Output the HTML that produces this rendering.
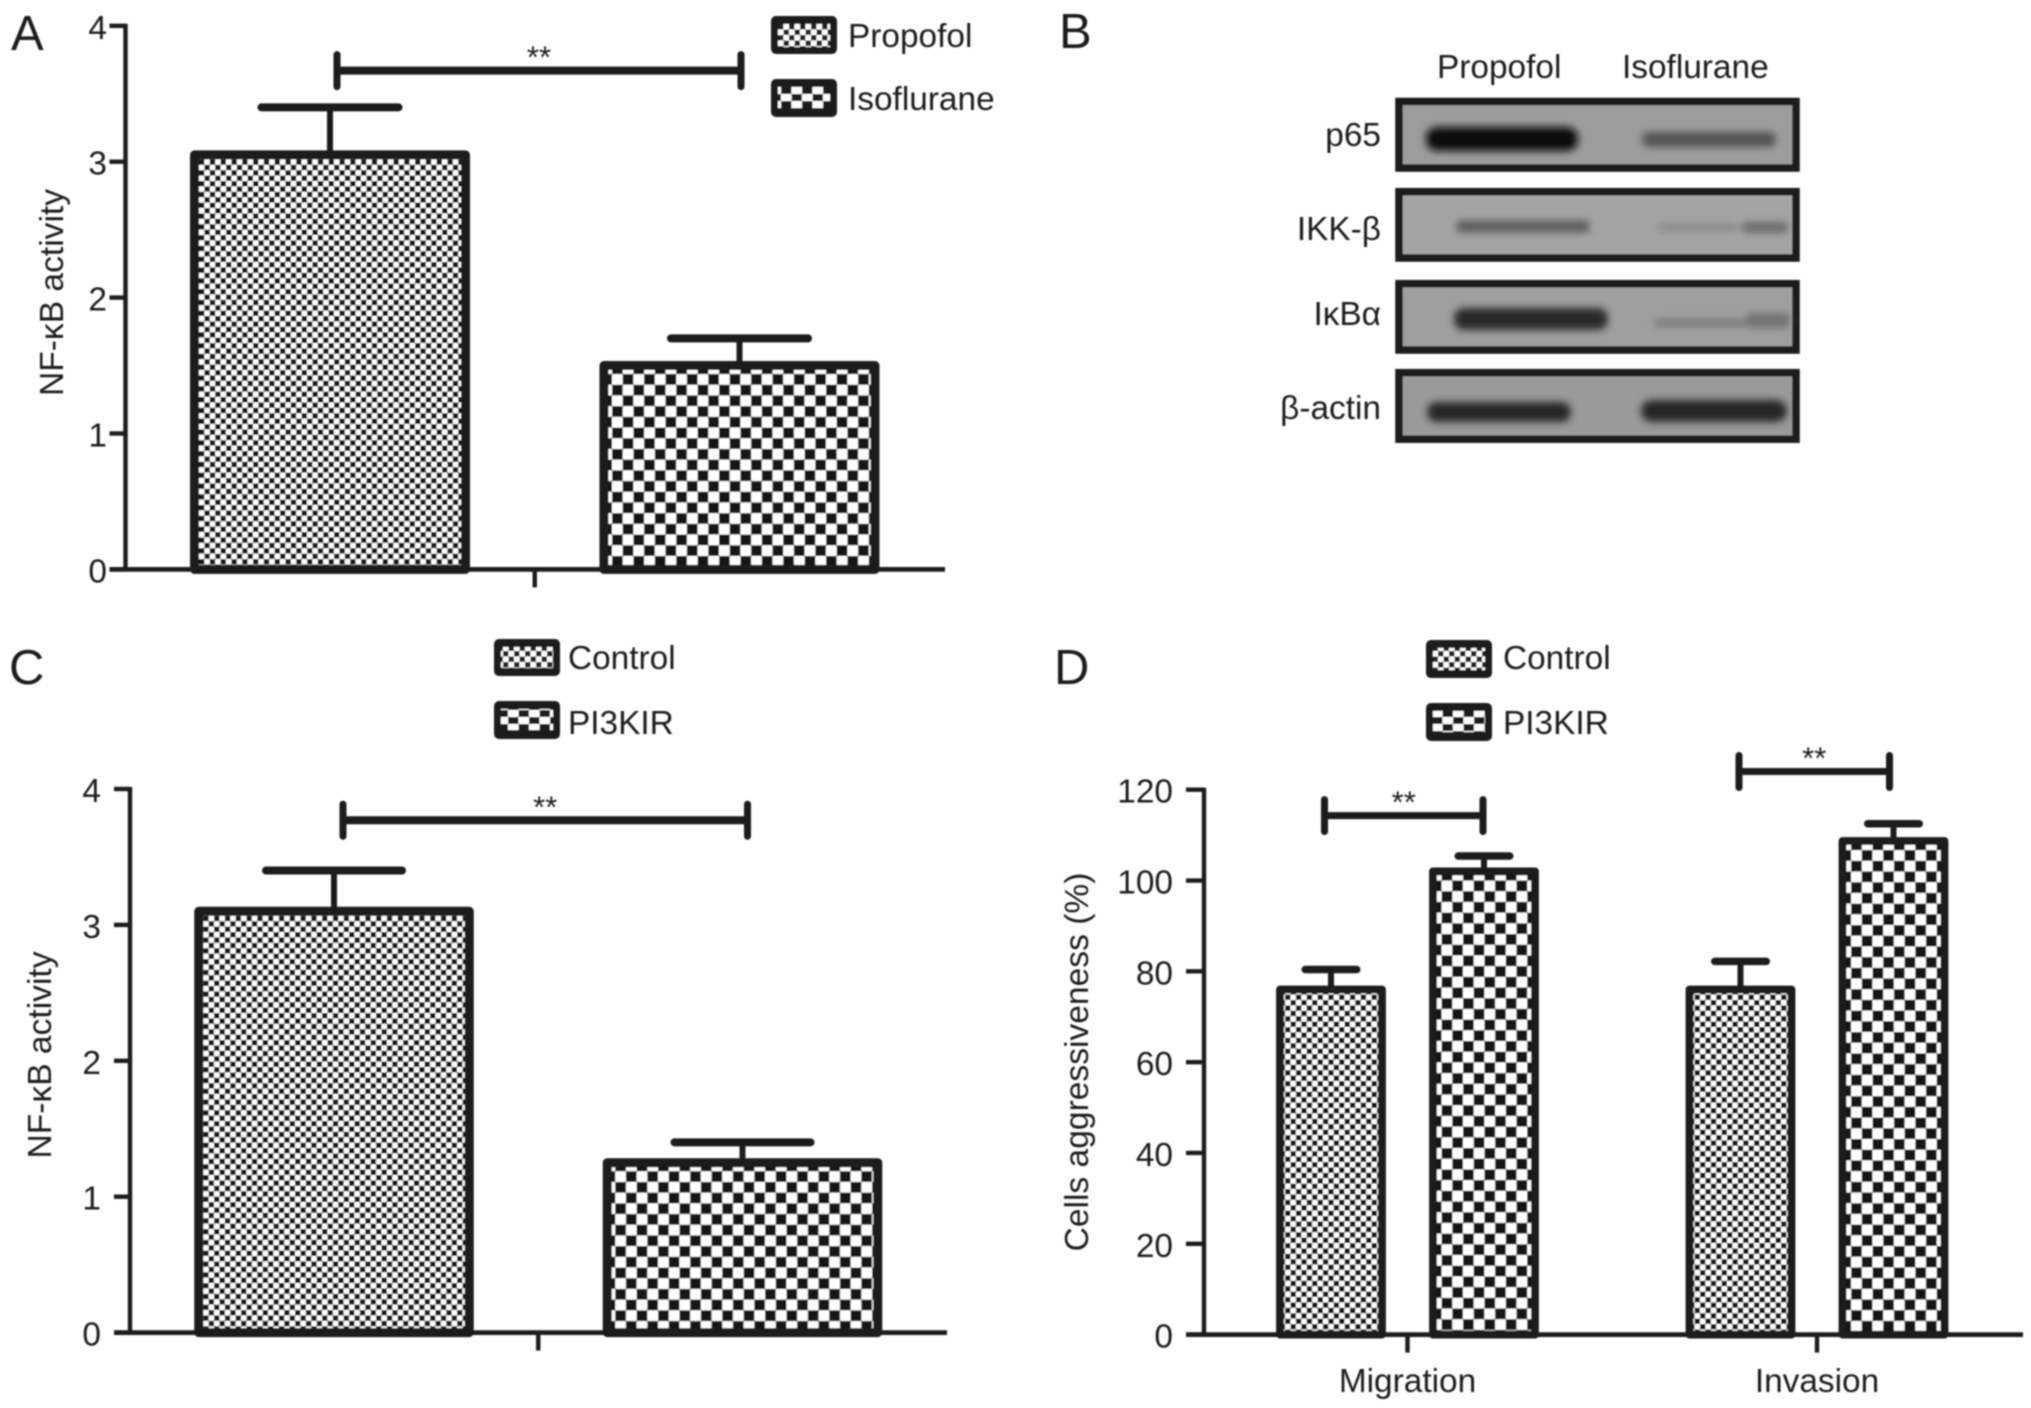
<!DOCTYPE html>
<html lang="en">
<head>
<meta charset="utf-8">
<title>NF-κB activity panels</title>
<style>
  html, body { margin: 0; padding: 0; background: #fff; }
  svg { display: block; }
  text { font-family: "Liberation Sans", "DejaVu Sans", sans-serif; fill: #1f1f1f; }
</style>
</head>
<body>
<svg id="figure" xmlns="http://www.w3.org/2000/svg" width="2031" height="1408" viewBox="0 0 2031 1408">
  <defs>
    <filter id="soft" filterUnits="userSpaceOnUse" x="0" y="0" width="2031" height="1408"><feGaussianBlur stdDeviation="0.75"/></filter>
    <filter id="band-blur" filterUnits="userSpaceOnUse" x="1380" y="90" width="440" height="370"><feGaussianBlur stdDeviation="3.8"/></filter>
    <pattern id="legend-fine" patternUnits="userSpaceOnUse" width="11" height="11" x="778" y="24">
      <rect width="11" height="11" fill="#fff"/><rect width="5.5" height="5.5" fill="#222"/><rect x="5.5" y="5.5" width="5.5" height="5.5" fill="#222"/>
    </pattern>
    <pattern id="legend-coarse" patternUnits="userSpaceOnUse" width="21" height="14" x="781" y="87">
      <rect width="21" height="14" fill="#fff"/><rect width="10.5" height="7" fill="#1a1a1a"/><rect x="10.5" y="7" width="10.5" height="7" fill="#1a1a1a"/>
    </pattern>
  </defs>

  <g id="root" filter="url(#soft)">
    <text x="11" y="50" font-size="49">A</text>
    <text x="1059" y="48" font-size="49">B</text>
    <text x="9" y="684" font-size="49">C</text>
    <text x="1054" y="684" font-size="49">D</text>

    <!-- Panel A legend -->
    <g>
      <rect x="771" y="16" width="66" height="38" rx="5" fill="#1a1a1a"/>
      <rect x="778" y="24" width="52" height="23" fill="url(#legend-fine)"/>
      <text x="848" y="47" font-size="33.4">Propofol</text>
      <rect x="771" y="79" width="66" height="38" rx="5" fill="#1a1a1a"/>
      <rect x="778" y="87" width="52" height="21" fill="url(#legend-coarse)"/>
      <text x="848" y="110" font-size="33.4">Isoflurane</text>
    </g>

    <!-- Panel C legend -->
    <g>
      <rect x="494" y="639" width="66" height="37" rx="5" fill="#1a1a1a"/>
      <rect x="501" y="647" width="52" height="21" fill="url(#legend-fine)"/>
      <text x="568" y="669" font-size="33.4">Control</text>
      <rect x="494" y="701" width="66" height="38" rx="5" fill="#1a1a1a"/>
      <rect x="501" y="709" width="52" height="21" fill="url(#legend-coarse)"/>
      <text x="568" y="734" font-size="33.4">PI3KIR</text>
    </g>

    <!-- Panel D legend -->
    <g>
      <rect x="1426" y="640" width="66" height="38" rx="5" fill="#1a1a1a"/>
      <rect x="1433" y="648" width="52" height="22" fill="url(#legend-fine)"/>
      <text x="1503" y="669" font-size="33.4">Control</text>
      <rect x="1426" y="703" width="66" height="38" rx="5" fill="#1a1a1a"/>
      <rect x="1433" y="711" width="52" height="21" fill="url(#legend-coarse)"/>
      <text x="1503" y="734" font-size="33.4">PI3KIR</text>
    </g>

    <!-- Panel B western blot -->
    <g>
      <text x="1437" y="78" font-size="33.4">Propofol</text>
      <text x="1622" y="78" font-size="33.4">Isoflurane</text>

      <text x="1381" y="146" font-size="33.4" text-anchor="end">p65</text>
      <text x="1381" y="240" font-size="33.4" text-anchor="end">IKK-β</text>
      <text x="1381" y="325" font-size="33.4" text-anchor="end">IκBα</text>
      <text x="1381" y="419" font-size="33.4" text-anchor="end">β-actin</text>

      <rect x="1399" y="101.5" width="397" height="66.5" fill="#9c9c9c" stroke="#1c1c1c" stroke-width="7.5"/>
      <rect x="1399" y="191.7" width="397" height="66.3" fill="#a4a4a4" stroke="#1c1c1c" stroke-width="7.5"/>
      <rect x="1399" y="283.7" width="397" height="66.3" fill="#9f9f9f" stroke="#1c1c1c" stroke-width="7.5"/>
      <rect x="1399" y="372.7" width="397" height="66.5" fill="#9a9a9a" stroke="#1c1c1c" stroke-width="7.5"/>

      <g filter="url(#band-blur)">
        <rect x="1426" y="127" width="152" height="24" rx="11" fill="#0e0e0e"/>
        <rect x="1642" y="132" width="134" height="15" rx="7" fill="#555"/>
        <rect x="1456" y="220" width="134" height="13" rx="6" fill="#606060"/>
        <rect x="1658" y="224" width="80" height="7" rx="3" fill="#868686"/>
        <rect x="1742" y="222" width="46" height="11" rx="4" fill="#6c6c6c"/>
        <rect x="1454" y="308" width="154" height="22" rx="10" fill="#2c2c2c"/>
        <rect x="1654" y="319" width="92" height="8" rx="4" fill="#7c7c7c"/>
        <rect x="1746" y="313" width="44" height="15" rx="5" fill="#727272"/>
        <rect x="1427" y="402" width="144" height="20" rx="10" fill="#262626"/>
        <rect x="1641" y="400" width="146" height="22" rx="11" fill="#262626"/>
      </g>
    </g>

    <g id="charts"></g>
  </g>
</svg>

<script>
// ---- Panel A data ----
const panelAYTicks = [0, 1, 2, 3, 4];
const panelALabels = ['propofol', 'isoflurane'];
const panelAValues = [3.05, 1.5];
const panelAErrorTops = [3.4, 1.7];
const panelASigLevels = [3.67];

// ---- Panel C data ----
const panelCYTicks = [0, 1, 2, 3, 4];
const panelCLabels = ['control', 'pi3kir'];
const panelCValues = [3.1, 1.25];
const panelCErrorTops = [3.4, 1.4];
const panelCSigLevels = [3.77];

// ---- Panel D data ----
const panelDYTicks = [0, 20, 40, 60, 80, 100, 120];
const panelDCategories = ['Migration', 'Invasion'];
const panelDControl = [76, 76];
const panelDControlErrorTops = [80.4, 82.2];
const panelDPi3kir = [102, 108.7];
const panelDPi3kirErrorTops = [105.4, 112.5];
const panelDSigLevels = [114.3, 124];

const NS = 'http://www.w3.org/2000/svg';
const INK = '#1a1a1a';
const chartsRoot = document.getElementById('charts');
const defsEl = document.querySelector('#figure defs');
let patternCount = 0;

function mk(tag, attrs, parent) {
  const el = document.createElementNS(NS, tag);
  for (const key in attrs) el.setAttribute(key, attrs[key]);
  if (parent) parent.appendChild(el);
  return el;
}

function linearAxis(domainMax, yZero, yMax) {
  return function (v) { return yZero + (yMax - yZero) * (v / domainMax); };
}

function barPattern(kind, outerLeft, outerTop) {
  const cell = kind === 'fine' ? 5.4 : 10.7;
  const id = 'bar-pattern-' + (patternCount++);
  const ox = kind === 'fine' ? outerLeft + 9 : outerLeft + 12.5;
  const oy = kind === 'fine' ? outerTop + 9 : outerTop + 2.3;
  const p = mk('pattern', { id: id, patternUnits: 'userSpaceOnUse', x: ox, y: oy, width: cell * 2, height: cell * 2 }, defsEl);
  mk('rect', { width: cell * 2, height: cell * 2, fill: '#fff' }, p);
  mk('rect', { x: 0, y: 0, width: cell, height: cell, fill: '#161616' }, p);
  mk('rect', { x: cell, y: cell, width: cell, height: cell, fill: '#161616' }, p);
  return 'url(#' + id + ')';
}

function drawBar(g, name, kind, cx, value, errTop, y, geo) {
  const top = y(value);
  const base = y(0);
  const half = geo.barWidth / 2;
  const stem = mk('line', { x1: cx, x2: cx, y1: y(errTop), y2: top, stroke: INK, 'stroke-width': geo.stemWidth }, g);
  
  
  const capHalf = geo.capWidth / 2 - geo.capThick / 2;
  const cap = mk('line', { x1: cx - capHalf, x2: cx + capHalf, y1: y(errTop), y2: y(errTop), stroke: INK, 'stroke-width': geo.capThick, 'stroke-linecap': 'round' }, g);
  
  
  const outerLeft = cx - half - geo.barStroke / 2;
  const outerTop = top - geo.barStroke / 2;
  const bar = mk('rect', { x: cx - half, y: top, width: half * 2, height: base - top, fill: barPattern(kind, outerLeft, outerTop), stroke: INK, 'stroke-width': geo.barStroke, 'stroke-linejoin': 'round' }, g);
  
  
}

function drawBracket(g, name, x1, x2, level, y, geo) {
  const yy = y(level);
  const line = mk('line', { x1: x1, x2: x2, y1: yy, y2: yy, stroke: INK, 'stroke-width': geo.sigThick }, g);
  
  
  [x1, x2].forEach(function (x, i) {
    const end = mk('line', { x1: x, x2: x, y1: yy - 16, y2: yy + 16, stroke: INK, 'stroke-width': geo.sigEnd, 'stroke-linecap': 'round' }, g);
    
    
  });
  const stars = mk('text', { x: (x1 + x2) / 2, y: yy - 3, 'font-size': 31, 'text-anchor': 'middle' }, g);
  stars.textContent = '**';
  
  
}

function drawAxes(g, panel, ticks, y, geo) {
  const yAxis = mk('line', { x1: geo.axisX, x2: geo.axisX, y1: y(ticks[ticks.length - 1]) - 2, y2: y(0) + 2, stroke: INK, 'stroke-width': 4.4 }, g);
  
  
  const xAxis = mk('line', { x1: geo.axisX - geo.tickLen, x2: geo.axisEnd, y1: y(0), y2: y(0), stroke: INK, 'stroke-width': 4.8 }, g);
  
  
  ticks.forEach(function (t) {
    const tick = mk('line', { x1: geo.axisX - geo.tickLen, x2: geo.axisX, y1: y(t), y2: y(t), stroke: INK, 'stroke-width': 4.4 }, g);
    
    
    const label = mk('text', { x: geo.labelX, y: y(t) + 13, 'font-size': 33.4, 'text-anchor': 'end' }, g);
    label.textContent = String(t);
    
    
  });
  const title = mk('text', { x: 0, y: 0, 'font-size': 33.6, 'text-anchor': 'middle', transform: 'translate(' + geo.titleX + ' ' + geo.titleY + ') rotate(-90)' }, g);
  title.textContent = geo.title;
  
  
}

function drawXTick(g, name, x, y, len) {
  const tick = mk('line', { x1: x, x2: x, y1: y(0), y2: y(0) + len, stroke: INK, 'stroke-width': 4.4 }, g);
  
  
}

// ---- Panel A ----
(function () {
  const g = mk('g', {}, chartsRoot);
  
  
  const y = linearAxis(4, 569.4, 25.8);
  const xCenter = function (i) { return 330 + i * 409.5; };
  const geo = { barWidth: 271, barStroke: 9, stemWidth: 6, capWidth: 145, capThick: 8, sigThick: 8, sigEnd: 7, axisX: 125.5, axisEnd: 945, tickLen: 16, labelX: 107, titleX: 63, titleY: 292.5, title: 'NF-κB activity' };
  panelALabels.forEach(function (name, i) {
    drawBar(g, 'a-' + name, i === 0 ? 'fine' : 'coarse', xCenter(i), panelAValues[i], panelAErrorTops[i], y, geo);
  });
  drawAxes(g, 'a', panelAYTicks, y, geo);
  drawXTick(g, 'a', (xCenter(0) + xCenter(1)) / 2, y, 18);
  drawBracket(g, 'a', xCenter(0) + 7, xCenter(1) + 1.5, panelASigLevels[0], y, geo);
})();

// ---- Panel C ----
(function () {
  const g = mk('g', {}, chartsRoot);
  
  
  const y = linearAxis(4, 1332.6, 789);
  const xCenter = function (i) { return 334 + i * 408.5; };
  const geo = { barWidth: 270.5, barStroke: 9, stemWidth: 6, capWidth: 144, capThick: 8, sigThick: 8, sigEnd: 7, axisX: 130, axisEnd: 947, tickLen: 16, labelX: 101, titleX: 51, titleY: 1055, title: 'NF-κB activity' };
  panelCLabels.forEach(function (name, i) {
    drawBar(g, 'c-' + name, i === 0 ? 'fine' : 'coarse', xCenter(i), panelCValues[i], panelCErrorTops[i], y, geo);
  });
  drawAxes(g, 'c', panelCYTicks, y, geo);
  drawXTick(g, 'c', (xCenter(0) + xCenter(1)) / 2, y, 18);
  drawBracket(g, 'c', xCenter(0) + 9, xCenter(1) + 5, panelCSigLevels[0], y, geo);
})();

// ---- Panel D ----
(function () {
  const g = mk('g', {}, chartsRoot);
  
  
  const y = linearAxis(120, 1334.6, 789.7);
  const groupCenter = function (i) { return 1407.5 + i * 409.5; };
  const geo = { barWidth: 102, barStroke: 7.8, stemWidth: 6, capWidth: 59, capThick: 7.5, sigThick: 7, sigEnd: 7, axisX: 1204, axisEnd: 2023, tickLen: 18, labelX: 1173, titleX: 1088, titleY: 1062, title: 'Cells aggressiveness (%)' };
  panelDCategories.forEach(function (cat, i) {
    const key = cat.toLowerCase();
    drawBar(g, 'd-control-' + key, 'fine', groupCenter(i) - 76.5, panelDControl[i], panelDControlErrorTops[i], y, geo);
    drawBar(g, 'd-pi3kir-' + key, 'coarse', groupCenter(i) + 76.5, panelDPi3kir[i], panelDPi3kirErrorTops[i], y, geo);
  });
  drawAxes(g, 'd', panelDYTicks, y, geo);
  panelDCategories.forEach(function (cat, i) {
    const key = cat.toLowerCase();
    drawXTick(g, 'd-' + key, groupCenter(i), y, 18);
    const label = mk('text', { x: groupCenter(i), y: 1392, 'font-size': 33.4, 'text-anchor': 'middle' }, g);
    label.textContent = cat;
    
    
    const offL = i === 0 ? -83 : -78;
    const offR = i === 0 ? 75.5 : 72.5;
    drawBracket(g, 'd-' + key, groupCenter(i) + offL, groupCenter(i) + offR, panelDSigLevels[i], y, geo);
  });
})();
</script>
</body>
</html>
